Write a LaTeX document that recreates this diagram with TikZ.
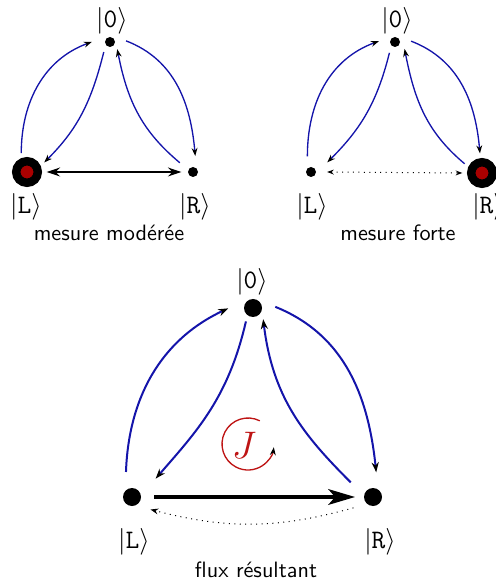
\documentclass[tikz,border=0pt]{standalone}
\usetikzlibrary{arrows.meta,calc}
\definecolor{lineblue}{RGB}{20,20,170}
\definecolor{jred}{RGB}{190,20,20}
\definecolor{dotred}{RGB}{170,0,0}
\begin{document}
\begin{tikzpicture}[x=0.45pt,y=-0.45pt,
 smalldot/.style={circle,fill=black,inner sep=0pt,minimum size=4.5pt,outer sep=5pt},
 bigdot/.style={circle,draw=black,fill=dotred,line width=3.8pt,inner sep=0pt,minimum size=9.7pt,outer sep=4pt},
 flowdot/.style={circle,fill=black,inner sep=0pt,minimum size=8.1pt,outer sep=6pt},
 ket/.style={inner sep=0pt,font=\large},
 caption/.style={font=\sffamily,anchor=base,inner sep=0pt},
 trans/.style={draw=lineblue,line width=0.6pt,-{Stealth[length=3.6pt,width=2.6pt,color=black]}},
 transB/.style={draw=lineblue,line width=0.9pt,-{Stealth[length=4.5pt,width=3.2pt,color=black]}},
 dotarrow/.style={draw=black,line width=0.45pt,dotted},
]
\useasboundingbox (0,0) rectangle (496,585);

% ---------- top-left : mesure moderee ----------
\node[smalldot] (Oa) at (110,42) {};
\node[bigdot]   (La) at (27,172) {};
\node[smalldot] (Ra) at (193,172) {};
\node[ket] (kOa) at (112,21) {$|\texttt{0}\rangle$};
\node[ket] (kLa) at (26,207) {$|\texttt{L}\rangle$};
\node[ket] (kRa) at (195,207) {$|\texttt{R}\rangle$};
\node[caption] (ca) at (109,241) {mesure modérée};

\draw[trans,shorten >=1pt] (La.107) to[out=90,in=200] (Oa.177);
\draw[trans,shorten <=-2pt] (Oa.243) to[out=256,in=45] (La.29);
\draw[trans,shorten >=-3pt] (Ra.145) to[out=140,in=281] (Oa.302);
\draw[trans] (Oa.4) to[out=-21,in=95] (Ra.82);
\draw[line width=1pt,{Stealth[length=6pt,width=4pt]}-{Stealth[length=6pt,width=4pt]},shorten >=-2pt] (La.0) -- (Ra.180);

% ---------- top-right : mesure forte ----------
\node[smalldot] (Ob) at (395,42) {};
\node[smalldot] (Lb) at (311,172) {};
\node[bigdot]   (Rb) at (482,173) {};
\node[ket] (kOb) at (397,21) {$|\texttt{0}\rangle$};
\node[ket] (kLb) at (312,207) {$|\texttt{L}\rangle$};
\node[ket] (kRb) at (488,207) {$|\texttt{R}\rangle$};
\node[caption] (cb) at (398,241) {mesure forte};

\draw[trans] (Lb.103) to[out=90,in=200] (Ob.177);
\draw[trans,shorten <=-1.8pt,shorten >=1.3pt] (Ob.246) to[out=256,in=45] (Lb.28);
\draw[trans,shorten >=-2.4pt] (Rb.152) to[out=140,in=281] (Ob.311);
\draw[trans] (Ob.3) to[out=-21,in=95] (Rb.96);
\draw[dotarrow,{Stealth[length=3pt,width=2.2pt]}-{Stealth[length=3pt,width=2.2pt]}] (Lb.0) -- (Rb.180);

% ---------- bottom : flux resultant ----------
\node[flowdot] (Oc) at (253,308) {};
\node[flowdot] (Lc) at (132,497) {};
\node[flowdot] (Rc) at (373,497) {};
\node[ket] (kOc) at (252,282) {$|\texttt{0}\rangle$};
\node[ket] (kLc) at (134,542) {$|\texttt{L}\rangle$};
\node[ket] (kRc) at (380,542) {$|\texttt{R}\rangle$};
\node[caption] (cc) at (256,577) {flux résultant};

\draw[transB,shorten <=1.6pt,shorten >=1.2pt] (Lc.106) to[out=88,in=205] (Oc.178);
\draw[transB,shorten <=-3.3pt,shorten >=3.5pt] (Oc.247) to[out=257,in=49] (Lc.34);
\draw[transB,shorten <=2pt,shorten >=-3.7pt] (Rc.149) to[out=135,in=277] (Oc.300);
\draw[transB,shorten >=1.2pt] (Oc.3) to[out=-22,in=96] (Rc.81);
\draw[line width=1.8pt,-{Stealth[length=12pt,width=7pt,inset=3pt]},shorten >=-2pt] (Lc.0) -- (Rc.180);
\draw[dotarrow,-{Stealth[length=3.5pt,width=2.6pt]}] (Rc.209) to[bend left=15] (Lc.326);

% current J
\node[text=jred,inner sep=0pt,font=\LARGE] (J) at (244,445) {$J$};
\coordinate (Jc) at (248,444);
\draw[jred,line width=0.6pt,-{Stealth[length=3.6pt,width=2.6pt,color=black]}] (Jc) ++(63:11.7pt) arc[start angle=63,end angle=353,radius=11.7pt];
\end{tikzpicture}
\end{document}
